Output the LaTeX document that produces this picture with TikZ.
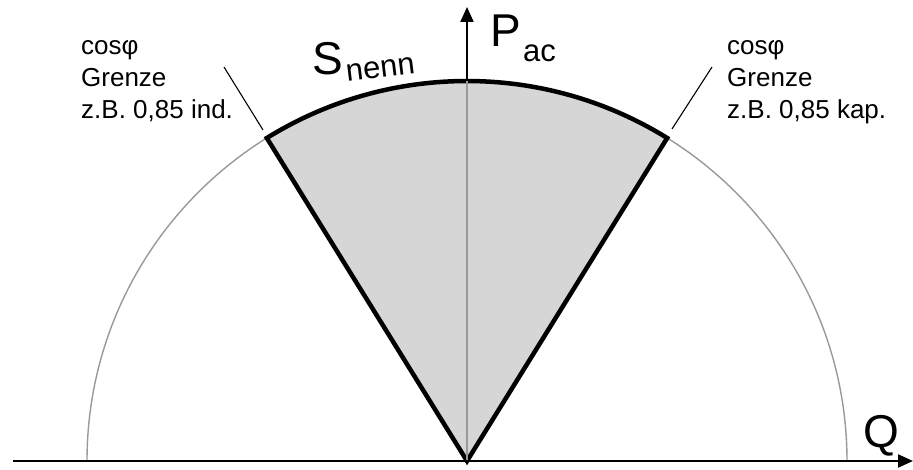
\documentclass[tikz,border=0pt]{standalone}
\usepackage{fontspec}
\setmainfont{Liberation Sans}
\usetikzlibrary{arrows.meta,calc}
\begin{document}
\begin{tikzpicture}[x=1pt,y=1pt,
  axis/.style={line width=2.2pt,-{Triangle[length=15pt,width=13pt]}},
  thin gray/.style={draw=black!40,line width=1.4pt},
  sector/.style={fill=black!16,draw=black,line width=4.5pt,line join=miter},
  leader/.style={line width=1.1pt},
  note/.style={align=left,inner sep=0pt,font=\fontsize{26}{32}\selectfont},
  big/.style={inner sep=0pt,font=\fontsize{46}{50}\selectfont},
  sub/.style={inner sep=0pt,font=\fontsize{31}{34}\selectfont}]
\useasboundingbox (0,0) rectangle (913,469);
\coordinate (O) at (467,8);
% circle
\draw[thin gray] ($(O)+(380,0)$) arc[start angle=0,end angle=180,radius=380];
% sector
\draw[sector] (O) -- ++(121.79:380) coordinate (L) arc[start angle=121.79,end angle=58.21,radius=380] coordinate (R) -- cycle;
\coordinate (T) at ($(O)+(0,380)$);
\draw[draw=black!40,line width=2pt] (O) -- (T);
% axes
\coordinate (Xs) at (13,8);
\coordinate (Xe) at (913,8);
\coordinate (Ye) at (467,462);
\draw[axis] (Xs) -- (Xe);
\draw[axis] (T) -- (Ye);
% labels
\node[note,anchor=base west] (ltext) at (81,350) {cosφ\\Grenze\\z.B. 0,85 ind.};
\node[note,anchor=base west] (rtext) at (727,350) {cosφ\\Grenze\\z.B. 0,85 kap.};
\coordinate (l1) at (224,402);
\coordinate (l2) at (263,339);
\coordinate (r1) at (712,402);
\coordinate (r2) at (672,340);
\draw[leader] (l1) -- (l2);
\draw[leader] (r1) -- (r2);
\node[big,anchor=base west] (S) at (312,394) {S};
\node[sub,anchor=base west,rotate=7] (nenn) at (347,387) {nenn};
\node[big,anchor=base west] (P) at (490,422) {P};
\node[sub,anchor=base west] (ac) at (523,407) {ac};
\node[big,anchor=base west] (Q) at (863,22) {Q};
\end{tikzpicture}
\end{document}
